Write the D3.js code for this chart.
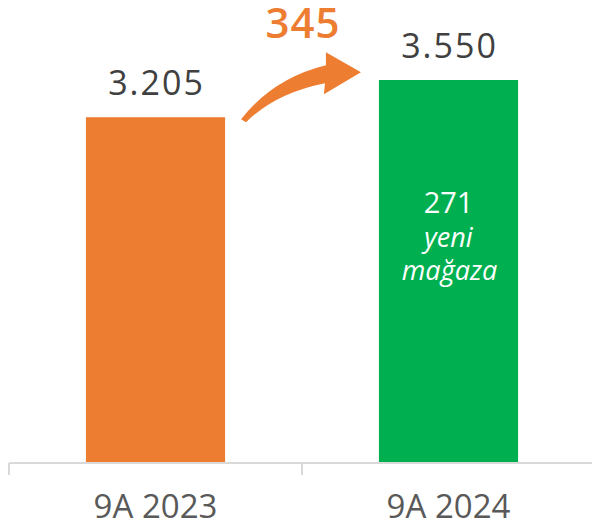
<!DOCTYPE html>
<html>
<head>
<meta charset="utf-8">
<script src="https://cdn.jsdelivr.net/npm/d3@7"></script>
<style>
  body { margin: 0; background: #fff; }
  text { font-family: "Open Sans", Lato, sans-serif; }
</style>
</head>
<body>
<div id="chart"></div>
<script>
// data
const categories = ["9A 2023", "9A 2024"];
const values = [3205, 3550];
const valueLabels = ["3.205", "3.550"];
const barColors = ["#ED7D31", "#00B050"];
const increaseLabel = "345";
const innerLabel = ["271", "yeni", "mağaza"];

const width = 592, height = 524;
const baseY = 463;

const svg = d3.select("#chart").append("svg")
    .attr("width", width)
    .attr("height", height);

const x = d3.scaleBand()
    .domain(categories)
    .range([9, 595])
    .paddingInner(0)
    .paddingOuter(0);

const y = d3.scaleLinear()
    .domain([0, 3550])
    .range([baseY, 80]);

const barW = x.bandwidth() * 0.475;

// bars
svg.append("g")
    .selectAll("rect")
    .data(values)
    .enter()
    .append("rect")
    .attr("x", (d, i) => x(categories[i]) + (x.bandwidth() - barW) / 2)
    .attr("y", d => y(d))
    .attr("width", barW)
    .attr("height", d => baseY - y(d))
    .attr("fill", (d, i) => barColors[i]);

// axis line + ticks
const axis = svg.append("g").attr("stroke", "#d9d9d9").attr("stroke-width", 2);
axis.append("line")
    .attr("x1", 9).attr("x2", width)
    .attr("y1", baseY).attr("y2", baseY);
axis.selectAll("line.tick")
    .data(categories)
    .enter()
    .append("line")
    .attr("class", "tick")
    .attr("x1", d => x(d)).attr("x2", d => x(d))
    .attr("y1", baseY).attr("y2", baseY + 12);

// category labels
svg.append("g")
    .selectAll("text")
    .data(categories)
    .enter()
    .append("text")
    .attr("x", d => x(d) + x.bandwidth() / 2)
    .attr("y", 518)
    .attr("text-anchor", "middle")
    .attr("fill", "#595959")
    .style("font-size", "33px")
    .text(d => d);

// value labels
svg.append("g")
    .selectAll("text")
    .data(values)
    .enter()
    .append("text")
    .attr("x", (d, i) => x(categories[i]) + x.bandwidth() / 2 + 1)
    .attr("y", d => y(d) - 22)
    .attr("text-anchor", "middle")
    .attr("fill", "#404040")
    .style("font-size", "34px")
    .style("letter-spacing", "2px")
    .text((d, i) => valueLabels[i]);

// inner label on second bar
const cx2 = x(categories[1]) + x.bandwidth() / 2;
const inner = svg.append("text")
    .attr("text-anchor", "middle")
    .attr("fill", "#fff");
inner.append("tspan").attr("x", cx2).attr("y", 213).style("font-size", "29px").text(innerLabel[0]);
inner.append("tspan").attr("x", cx2).attr("y", 247).style("font-size", "27px").style("font-style", "italic").text(innerLabel[1]);
inner.append("tspan").attr("x", cx2 + 1).attr("y", 280).style("font-size", "27px").style("font-style", "italic").text(innerLabel[2]);

// curved arrow between bars
const x0 = x(categories[0]) + (x.bandwidth() + barW) / 2;  // right edge of bar 1
const x1 = x(categories[1]) + (x.bandwidth() - barW) / 2;  // left edge of bar 2
const y0 = y(values[0]);
svg.append("path")
    .attr("fill", "#ED7D31")
    .attr("d", `M${x0 + 21},${y0 + 5}
      Q${x0 + 50},${y0 - 24} ${x1 - 54},${y0 - 34}
      L${x1 - 55},${y0 - 23}
      L${x1 - 18},${y0 - 45}
      L${x1 - 53},${y0 - 65}
      L${x1 - 53},${y0 - 52}
      Q${x0 + 48},${y0 - 39} ${x0 + 16},${y0 + 2} Z`);

svg.append("text")
    .attr("x", (x0 + x1) / 2 + 1)
    .attr("y", 38)
    .attr("text-anchor", "middle")
    .attr("fill", "#ED7D31")
    .style("font-size", "42px")
    .style("font-weight", "600")
    .style("letter-spacing", "1px")
    .text(increaseLabel);
</script>
</body>
</html>
